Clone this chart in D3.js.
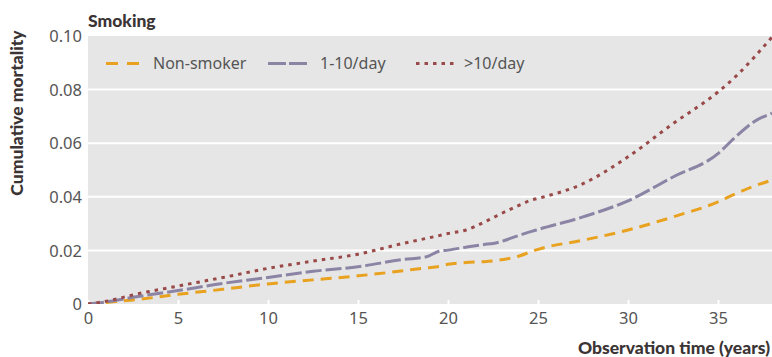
<!DOCTYPE html>
<html>
<head>
<meta charset="utf-8">
<script src="https://cdn.jsdelivr.net/npm/d3@7"></script>
<style>
  html, body { margin: 0; padding: 0; background: #ffffff; }
  svg { display: block; }
  .tick-label { font-family: "Noto Sans", "Open Sans", sans-serif; font-size: 16.5px; fill: #555555; }
  .title { font-family: "Lato", "Noto Sans", sans-serif; font-weight: 900; font-size: 17.5px; fill: #3b3434; }
  .legend-label { font-family: "Noto Sans", "Open Sans", sans-serif; font-size: 16px; fill: #555555; }
</style>
</head>
<body>
<svg id="chart" width="772" height="357"></svg>
<script>
// Observation time (years) at which cumulative mortality was read
const years = [0, 1, 2.5, 5, 7.5, 10, 12.5, 15, 17.5, 18.8, 19.5, 20, 21, 22, 22.5, 24, 24.6, 25, 27.5, 30, 32.5, 35, 36, 37, 38];

// Cumulative mortality by smoking group
const nonSmoker = [0, 0.0006, 0.0015, 0.0036, 0.0055, 0.0075, 0.0090, 0.0105, 0.0124, 0.0135, 0.0140, 0.0148, 0.0155, 0.0158, 0.0161, 0.0180, 0.0195, 0.0204, 0.0238, 0.0276, 0.0325, 0.0381, 0.0412, 0.0440, 0.0462];
const light     = [0, 0.0008, 0.0025, 0.0050, 0.0077, 0.0099, 0.0122, 0.0139, 0.0166, 0.0176, 0.0197, 0.0201, 0.0212, 0.0222, 0.0226, 0.0257, 0.0270, 0.0278, 0.0325, 0.0385, 0.0474, 0.0561, 0.0625, 0.0680, 0.0712];
const heavy     = [0, 0.0010, 0.0034, 0.0067, 0.0099, 0.0133, 0.0160, 0.0186, 0.0226, 0.0245, 0.0255, 0.0263, 0.0276, 0.0305, 0.0322, 0.0370, 0.0387, 0.0394, 0.0449, 0.0549, 0.0673, 0.0791, 0.0850, 0.0920, 0.0996];

const seriesNames = ["Non-smoker", "1-10/day", ">10/day"];
const xTicks = [0, 5, 10, 15, 20, 25, 30, 35];
const yTicks = [0, 0.02, 0.04, 0.06, 0.08, 0.10];
const yTickLabels = ["0", "0.02", "0.04", "0.06", "0.08", "0.10"];

const svg = d3.select("#chart");
const plot = { left: 88, right: 772, top: 36, bottom: 304 };

const x = d3.scaleLinear().domain([0, 38]).range([plot.left, plot.right]);
const y = d3.scaleLinear().domain([0, 0.10]).range([plot.bottom, plot.top]);

// Panel background
svg.append("rect")
  .attr("x", plot.left).attr("y", plot.top)
  .attr("width", plot.right - plot.left).attr("height", plot.bottom - plot.top)
  .attr("fill", "#e6e6e6");

// Horizontal gridlines
svg.append("g")
  .selectAll("line")
  .data(yTicks.filter(v => v > 0 && v < 0.10))
  .join("line")
  .attr("x1", plot.left).attr("x2", plot.right)
  .attr("y1", d => y(d)).attr("y2", d => y(d))
  .attr("stroke", "#ffffff").attr("stroke-width", 2);

// X axis: short white ticks inside the panel, labels below
const xAxis = d3.axisBottom(x).tickValues(xTicks).tickSize(0).tickPadding(0).tickFormat(d3.format("d"));
const gx = svg.append("g").attr("transform", `translate(0,${plot.bottom})`).call(xAxis);
gx.select(".domain").remove();
gx.selectAll(".tick text").attr("class", "tick-label").attr("dy", null).attr("y", 20).attr("fill", null);
gx.selectAll(".tick").append("line")
  .attr("y1", -4).attr("y2", 0)
  .attr("stroke", "#ffffff").attr("stroke-width", 2);

// Y axis labels
const yAxis = d3.axisLeft(y).tickValues(yTicks).tickSize(0).tickPadding(0)
  .tickFormat((d, i) => yTickLabels[i]);
const gy = svg.append("g").attr("transform", `translate(${plot.left - 6},0)`).call(yAxis);
gy.select(".domain").remove();
gy.selectAll(".tick text").attr("class", "tick-label").attr("dy", "0.35em").attr("fill", null);

// Series
const series = [
  { name: seriesNames[0], values: nonSmoker, color: "#e8a220", dash: "11,7",  legendDash: "12,9" },
  { name: seriesNames[1], values: light,     color: "#8b84a4", dash: "16,4",  legendDash: "18,3" },
  { name: seriesNames[2], values: heavy,     color: "#994a48", dash: "3.5,5", legendDash: "3.5,5" }
];

const line = d3.line()
  .x((d, i) => x(years[i]))
  .y(d => y(d))
  .curve(d3.curveMonotoneX);

svg.append("defs").append("clipPath").attr("id", "panel")
  .append("rect")
  .attr("x", plot.left).attr("y", plot.top - 3)
  .attr("width", plot.right - plot.left).attr("height", plot.bottom - plot.top + 3);

svg.append("g").attr("clip-path", "url(#panel)")
  .selectAll("path")
  .data(series)
  .join("path")
  .attr("d", d => line(d.values))
  .attr("fill", "none")
  .attr("stroke", d => d.color)
  .attr("stroke-width", 3)
  .attr("stroke-dasharray", d => d.dash);

// Legend
const legendPos = [
  { x0: 106, x1: 141, tx: 153 },
  { x0: 268, x1: 307, tx: 320 },
  { x0: 416, x1: 454, tx: 464 }
];
const legend = svg.append("g");
series.forEach((s, i) => {
  const p = legendPos[i];
  legend.append("line")
    .attr("x1", p.x0).attr("x2", p.x1)
    .attr("y1", 63.5).attr("y2", 63.5)
    .attr("stroke", s.color).attr("stroke-width", 3)
    .attr("stroke-dasharray", s.legendDash);
  legend.append("text")
    .attr("class", "legend-label")
    .attr("x", p.tx).attr("y", 63.5).attr("dy", "0.35em")
    .text(s.name);
});

// Titles
svg.append("text").attr("class", "title")
  .attr("x", 88).attr("y", 27)
  .text("Smoking");

svg.append("text").attr("class", "title")
  .attr("text-anchor", "middle")
  .attr("transform", "translate(23,113) rotate(-90)")
  .text("Cumulative mortality");

svg.append("text").attr("class", "title")
  .attr("text-anchor", "end")
  .attr("x", 770).attr("y", 354)
  .text("Observation time (years)");
</script>
</body>
</html>
